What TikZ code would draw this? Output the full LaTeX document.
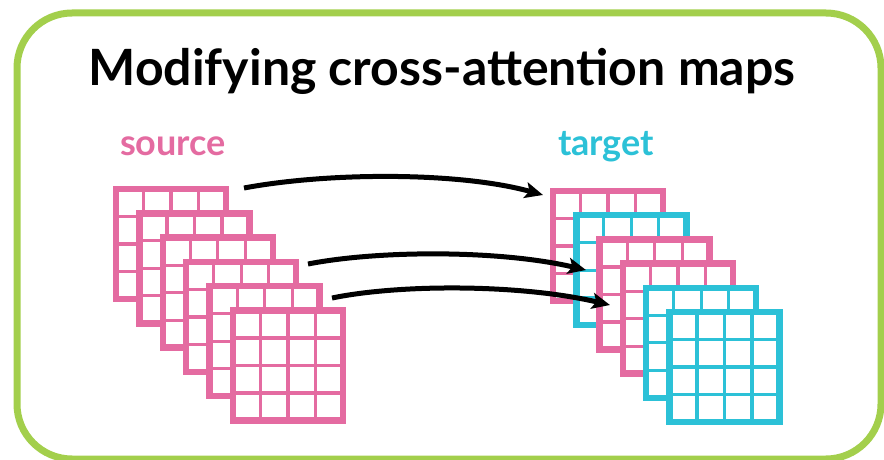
\documentclass[tikz,border=0pt]{standalone}
\usepackage{fontspec}
\setmainfont{Lato}
\usetikzlibrary{arrows.meta,calc}
\definecolor{pinkc}{HTML}{E46BA1}
\definecolor{cyanc}{HTML}{2CC1D7}
\definecolor{greenc}{HTML}{A3CF4C}
\tikzset{
  gridbox/.style={draw=#1, fill=white, line width=6.5pt, minimum size=110pt,
    inner sep=0pt, outer sep=0pt, anchor=north west,
    path picture={\foreach \k in {1,2,3}{
      \draw[#1, line width=3.2pt]
        ($(path picture bounding box.south west)!\k/4!(path picture bounding box.south east)$) --
        ($(path picture bounding box.north west)!\k/4!(path picture bounding box.north east)$);
      \draw[#1, line width=3.2pt]
        ($(path picture bounding box.south west)!\k/4!(path picture bounding box.north west)$) --
        ($(path picture bounding box.south east)!\k/4!(path picture bounding box.north east)$);
    }}},
  flow/.style={line width=5pt, -{Stealth[length=18pt,width=16pt,inset=4pt]}},
  frame/.style={draw=greenc, line width=7pt, rounded corners=55pt},
  titletext/.style={font=\fontsize{50}{58}\selectfont\bfseries, anchor=base, inner sep=0pt},
  lbl/.style={font=\fontsize{36}{42}\selectfont\bfseries, anchor=base, inner sep=0pt},
}
\begin{document}
\begin{tikzpicture}[x=1pt,y=-1pt]
\useasboundingbox (0,0) rectangle (884,460);
\draw[frame] (17,13) rectangle (881,459);
\node[titletext] (title) at (442,85) {Modifying cross-attention maps};
\node[lbl, text=pinkc] (src) at (173,155) {source};
\node[lbl, text=cyanc] (tgt) at (606,155) {target};
% source stack
\foreach \i in {1,...,6}{
  \node[gridbox=pinkc] (s\i) at ({116+23.4*(\i-1)},{189+24.3*(\i-1)}) {};
}
% target stack
\foreach \i/\c in {1/pinkc,2/cyanc,3/pinkc,4/pinkc,5/cyanc,6/cyanc}{
  \node[gridbox=\c] (t\i) at ({553+23.3*(\i-1)},{191+24.2*(\i-1)}) {};
}
\coordinate (a1s) at (244,188);
\coordinate (a1e) at (543,195);
\coordinate (a2s) at (308,264);
\coordinate (a2e) at (586,270);
\coordinate (a3s) at (332,298);
\coordinate (a3e) at (610,305);
\draw[flow] (a1s) .. controls (330,172) and (460,172) .. (a1e);
\draw[flow] (a2s) .. controls (380,250) and (500,250) .. (a2e);
\draw[flow] (a3s) .. controls (400,284) and (520,284) .. (a3e);
\end{tikzpicture}
\end{document}
